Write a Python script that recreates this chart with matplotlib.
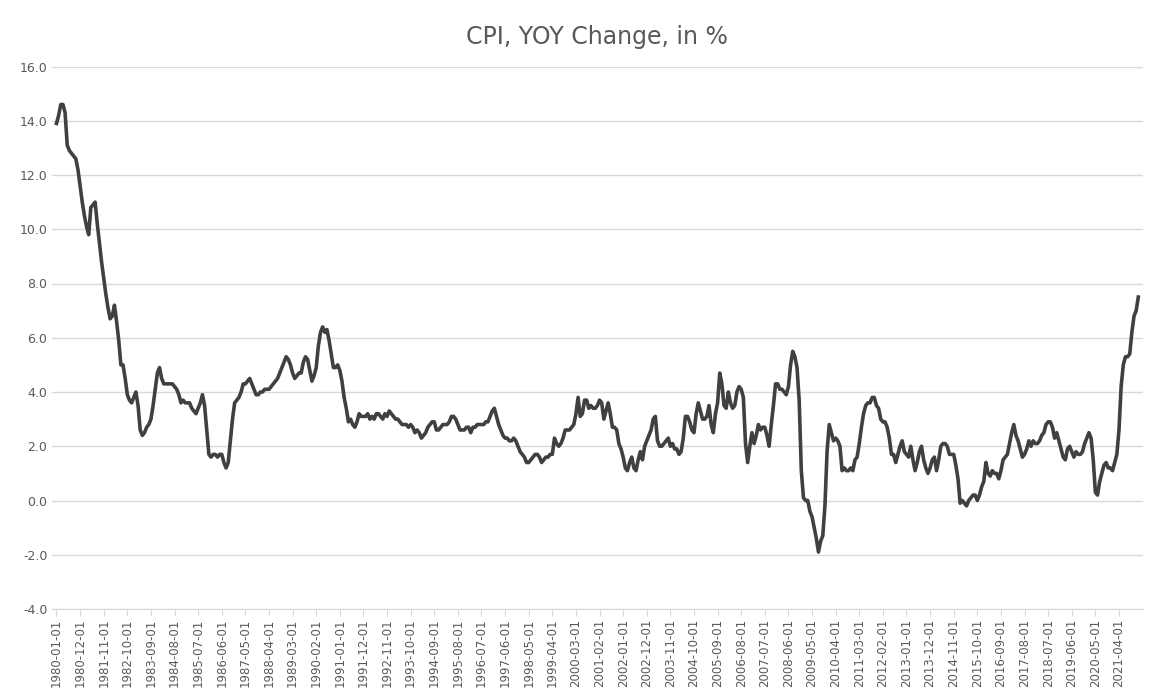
import numpy as np
import pandas as pd
import matplotlib.pyplot as plt
from matplotlib.ticker import FormatStrFormatter

# CPI year-over-year change, monthly, by year
cpi = {
    1980: [13.9, 14.2, 14.6, 14.6, 14.3, 13.1, 12.9, 12.8, 12.7, 12.6, 12.2, 11.6],
    1981: [11.0, 10.5, 10.1, 9.8, 10.8, 10.9, 11.0, 10.2, 9.5, 8.8, 8.2, 7.6],
    1982: [7.1, 6.7, 6.8, 7.2, 6.6, 5.9, 5.0, 5.0, 4.5, 3.9, 3.7, 3.6],
    1983: [3.8, 4.0, 3.5, 2.6, 2.4, 2.5, 2.7, 2.8, 3.0, 3.5, 4.1, 4.7],
    1984: [4.9, 4.5, 4.3, 4.3, 4.3, 4.3, 4.3, 4.2, 4.1, 3.9, 3.6, 3.7],
    1985: [3.6, 3.6, 3.6, 3.4, 3.3, 3.2, 3.4, 3.6, 3.9, 3.5, 2.6, 1.7],
    1986: [1.6, 1.7, 1.7, 1.6, 1.7, 1.7, 1.4, 1.2, 1.4, 2.2, 3.0, 3.6],
    1987: [3.7, 3.8, 4.0, 4.3, 4.3, 4.4, 4.5, 4.3, 4.1, 3.9, 3.9, 4.0],
    1988: [4.0, 4.1, 4.1, 4.1, 4.2, 4.3, 4.4, 4.5, 4.7, 4.9, 5.1, 5.3],
    1989: [5.2, 5.0, 4.7, 4.5, 4.6, 4.7, 4.7, 5.1, 5.3, 5.2, 4.8, 4.4],
    1990: [4.6, 4.9, 5.7, 6.2, 6.4, 6.2, 6.3, 5.9, 5.4, 4.9, 4.9, 5.0],
    1991: [4.8, 4.4, 3.8, 3.4, 2.9, 3.0, 2.8, 2.7, 2.9, 3.2, 3.1, 3.1],
    1992: [3.1, 3.2, 3.0, 3.1, 3.0, 3.2, 3.2, 3.1, 3.0, 3.2, 3.1, 3.3],
    1993: [3.2, 3.1, 3.0, 3.0, 2.9, 2.8, 2.8, 2.8, 2.7, 2.8, 2.7, 2.5],
    1994: [2.6, 2.5, 2.3, 2.4, 2.5, 2.7, 2.8, 2.9, 2.9, 2.6, 2.6, 2.7],
    1995: [2.8, 2.8, 2.8, 2.9, 3.1, 3.1, 3.0, 2.8, 2.6, 2.6, 2.6, 2.7],
    1996: [2.7, 2.5, 2.7, 2.7, 2.8, 2.8, 2.8, 2.8, 2.9, 2.9, 3.1, 3.3],
    1997: [3.4, 3.1, 2.8, 2.6, 2.4, 2.3, 2.3, 2.2, 2.2, 2.3, 2.2, 2.0],
    1998: [1.8, 1.7, 1.6, 1.4, 1.4, 1.5, 1.6, 1.7, 1.7, 1.6, 1.4, 1.5],
    1999: [1.6, 1.6, 1.7, 1.7, 2.3, 2.1, 2.0, 2.1, 2.3, 2.6, 2.6, 2.6],
    2000: [2.7, 2.8, 3.2, 3.8, 3.1, 3.2, 3.7, 3.7, 3.4, 3.5, 3.4, 3.4],
    2001: [3.5, 3.7, 3.6, 3.0, 3.3, 3.6, 3.2, 2.7, 2.7, 2.6, 2.1, 1.9],
    2002: [1.6, 1.2, 1.1, 1.4, 1.6, 1.2, 1.1, 1.5, 1.8, 1.5, 2.0, 2.2],
    2003: [2.4, 2.6, 3.0, 3.1, 2.2, 2.0, 2.0, 2.1, 2.2, 2.3, 2.0, 2.1],
    2004: [1.9, 1.9, 1.7, 1.8, 2.3, 3.1, 3.1, 2.9, 2.6, 2.5, 3.2, 3.6],
    2005: [3.3, 3.0, 3.0, 3.1, 3.5, 2.8, 2.5, 3.2, 3.6, 4.7, 4.3, 3.5],
    2006: [3.4, 4.0, 3.6, 3.4, 3.5, 4.0, 4.2, 4.1, 3.8, 2.1, 1.4, 2.0],
    2007: [2.5, 2.1, 2.4, 2.8, 2.6, 2.7, 2.7, 2.4, 2.0, 2.8, 3.5, 4.3],
    2008: [4.3, 4.1, 4.1, 4.0, 3.9, 4.2, 5.0, 5.5, 5.3, 4.9, 3.7, 1.1],
    2009: [0.1, 0.0, 0.0, -0.4, -0.6, -1.0, -1.4, -1.9, -1.5, -1.3, -0.2, 1.8],
    2010: [2.8, 2.5, 2.2, 2.3, 2.2, 2.0, 1.1, 1.2, 1.1, 1.1, 1.2, 1.1],
    2011: [1.5, 1.6, 2.1, 2.7, 3.2, 3.5, 3.6, 3.6, 3.8, 3.8, 3.5, 3.4],
    2012: [3.0, 2.9, 2.9, 2.7, 2.3, 1.7, 1.7, 1.4, 1.7, 2.0, 2.2, 1.8],
    2013: [1.7, 1.6, 2.0, 1.5, 1.1, 1.4, 1.8, 2.0, 1.5, 1.2, 1.0, 1.2],
    2014: [1.5, 1.6, 1.1, 1.5, 2.0, 2.1, 2.1, 2.0, 1.7, 1.7, 1.7, 1.3],
    2015: [0.8, -0.1, 0.0, -0.1, -0.2, 0.0, 0.1, 0.2, 0.2, 0.0, 0.2, 0.5],
    2016: [0.7, 1.4, 1.0, 0.9, 1.1, 1.0, 1.0, 0.8, 1.1, 1.5, 1.6, 1.7],
    2017: [2.1, 2.5, 2.8, 2.4, 2.2, 1.9, 1.6, 1.7, 1.9, 2.2, 2.0, 2.2],
    2018: [2.1, 2.1, 2.2, 2.4, 2.5, 2.8, 2.9, 2.9, 2.7, 2.3, 2.5, 2.2],
    2019: [1.9, 1.6, 1.5, 1.9, 2.0, 1.8, 1.6, 1.8, 1.7, 1.7, 1.8, 2.1],
    2020: [2.3, 2.5, 2.3, 1.5, 0.3, 0.2, 0.7, 1.0, 1.3, 1.4, 1.2, 1.2],
    2021: [1.1, 1.4, 1.7, 2.6, 4.2, 5.0, 5.3, 5.3, 5.4, 6.2, 6.8, 7.0],
    2022: [7.5],
}

values = [v for yr in sorted(cpi) for v in cpi[yr]]
dates = pd.date_range('1980-01-01', periods=len(values), freq='MS')
x = np.arange(len(values))

fig, ax = plt.subplots(figsize=(11.6, 7.0), dpi=100)
fig.subplots_adjust(left=0.045, right=0.985, top=0.905, bottom=0.13)

ax.plot(x, values, color='#404040', linewidth=2.6)

ax.set_ylim(-4, 16)
ax.set_yticks(np.arange(-4, 16.1, 2))
ax.yaxis.set_major_formatter(FormatStrFormatter('%.1f'))
ax.grid(axis='y', color='#d9d9d9', linewidth=1)
ax.set_axisbelow(True)

tick_idx = x[::11]
ax.set_xticks(tick_idx)
ax.set_xticklabels([dates[i].strftime('%Y-%m-%d') for i in tick_idx], rotation=90)
ax.set_xlim(-2, len(values) + 1)

for s in ['top', 'right', 'left']:
    ax.spines[s].set_visible(False)
ax.spines['bottom'].set_color('#d9d9d9')
ax.tick_params(axis='y', length=0, labelsize=9, colors='#595959')
ax.tick_params(axis='x', labelsize=8.5, colors='#595959', color='#d9d9d9', length=5, pad=2)

ax.set_title('CPI, YOY Change, in %', fontsize=17, color='#595959', pad=16)

plt.savefig('out.png', dpi=100)
